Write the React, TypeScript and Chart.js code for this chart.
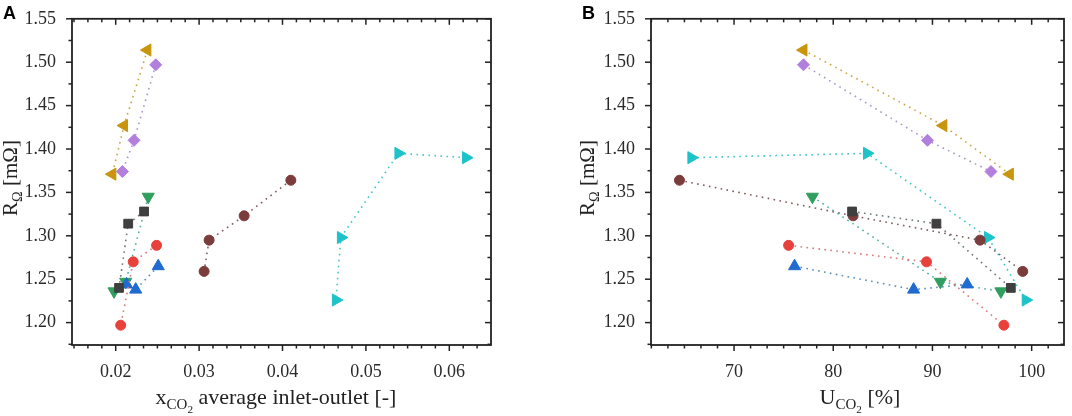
import React, { useEffect, useRef } from 'react';
import { Chart, registerables } from 'chart.js';

Chart.register(...registerables);

// R_Ω [mΩ] per run (same runs in both panels)
const rSquare = [1.328, 1.314, 1.240];
const rCircle = [1.289, 1.270, 1.197];
const rTriUp = [1.265, 1.238, 1.244];
const rTriDown = [1.345, 1.247, 1.236];
const rHex = [1.364, 1.323, 1.295, 1.259];
const rTriRight = [1.390, 1.395, 1.298, 1.226];
const rDiamond = [1.497, 1.410, 1.374];
const rTriLeft = [1.514, 1.427, 1.371];

// panel A: x_CO2 average inlet-outlet [-]
const xSquare = [0.0234, 0.0215, 0.0204];
const xCircle = [0.0249, 0.0221, 0.0206];
const xTriUp = [0.0251, 0.0224, 0.0213];
const xTriDown = [0.0239, 0.0212, 0.0198];
const xHex = [0.0410, 0.0354, 0.0312, 0.0306];
const xTriRight = [0.0620, 0.0539, 0.0470, 0.0464];
const xDiamond = [0.0248, 0.0222, 0.0208];
const xTriLeft = [0.0238, 0.0210, 0.0196];

// panel B: U_CO2 [%]
const uSquare = [81.9, 90.4, 97.9];
const uCircle = [75.5, 89.4, 97.2];
const uTriUp = [76.1, 88.1, 93.5];
const uTriDown = [77.9, 90.8, 96.9];
const uHex = [64.5, 82.0, 94.8, 99.1];
const uTriRight = [65.7, 83.4, 95.6, 99.4];
const uDiamond = [77.0, 89.5, 95.9];
const uTriLeft = [77.0, 91.1, 97.8];

// tick labels
const rTicks = [1.20, 1.25, 1.30, 1.35, 1.40, 1.45, 1.50, 1.55];
const xTicks = [0.02, 0.03, 0.04, 0.05, 0.06];
const uTicks = [70, 80, 90, 100];

const series = [
  { r: rSquare, x: xSquare, u: uSquare, color: '#3f3f3f', line: '#6b7676', style: 'rect', rotation: 0, radius: 6.2 },
  { r: rCircle, x: xCircle, u: uCircle, color: '#e8413c', line: '#d87878', style: 'circle', rotation: 0, radius: 5 },
  { r: rTriUp, x: xTriUp, u: uTriUp, color: '#1f6bd0', line: '#5b8cb8', style: 'triangle', rotation: 0, radius: 7 },
  { r: rTriDown, x: xTriDown, u: uTriDown, color: '#2f9e5e', line: '#4fb0a0', style: 'triangle', rotation: 180, radius: 7 },
  { r: rHex, x: xHex, u: uHex, color: '#7b3c3c', line: '#805a5a', style: 'circle', rotation: 0, radius: 5 },
  { r: rTriRight, x: xTriRight, u: uTriRight, color: '#1dc3c9', line: '#3cc6ca', style: 'triangle', rotation: 90, radius: 7 },
  { r: rDiamond, x: xDiamond, u: uDiamond, color: '#b27fdc', line: '#a995c8', style: 'rectRot', rotation: 0, radius: 6 },
  { r: rTriLeft, x: xTriLeft, u: uTriLeft, color: '#c9950f', line: '#c9a640', style: 'triangle', rotation: -90, radius: 7 },
];

const serif = "'Liberation Serif', 'Times New Roman', serif";
const tickFont = { family: serif, size: 18 };

// frame + major/minor ticks (outward bottom/left, inward top/right)
const frameTicks = {
  id: 'frameTicks',
  afterDraw(chart: any, _args: any, opts: any) {
    const { ctx, chartArea: a } = chart;
    const xs = chart.scales.x;
    const ys = chart.scales.y;
    const minors = (ticks: number[], div: number, min: number, max: number) => {
      const step = (ticks[1] - ticks[0]) / div;
      const out: number[] = [];
      for (let v = ticks[0] - step; v > min; v -= step) out.push(v);
      ticks.forEach(t => {
        for (let k = 1; k < div; k++) {
          const v = t + k * step;
          if (v < max) out.push(v);
        }
      });
      return out;
    };
    const seg = (x1: number, y1: number, x2: number, y2: number) => {
      ctx.beginPath();
      ctx.moveTo(x1, y1);
      ctx.lineTo(x2, y2);
      ctx.stroke();
    };
    ctx.save();
    ctx.strokeStyle = '#222';
    ctx.lineWidth = 1.8;
    ctx.strokeRect(a.left, a.top, a.right - a.left, a.bottom - a.top);
    ctx.lineWidth = 1.5;
    const drawX = (v: number, len: number) => {
      const px = xs.getPixelForValue(v);
      seg(px, a.bottom, px, a.bottom + len);
      seg(px, a.top, px, a.top + len);
    };
    const drawY = (v: number, len: number) => {
      const py = ys.getPixelForValue(v);
      seg(a.left, py, a.left - len, py);
      seg(a.right, py, a.right - len, py);
    };
    opts.xTicks.forEach((v: number) => drawX(v, 6));
    minors(opts.xTicks, 6, xs.min, xs.max).forEach(v => drawX(v, 3.5));
    rTicks.forEach(v => drawY(v, 6));
    minors(rTicks, 2, ys.min, ys.max).forEach(v => drawY(v, 3.5));
    ctx.restore();
  },
};

function buildConfig(panel: 'A' | 'B') {
  const isA = panel === 'A';
  const ticksX = isA ? xTicks : uTicks;
  return {
    type: 'scatter' as const,
    data: {
      datasets: series.map(s => ({
        data: (isA ? s.x : s.u).map((v, i) => ({ x: v, y: s.r[i] })),
        showLine: true,
        borderColor: s.line,
        borderWidth: 1.6,
        borderDash: [1.6, 4.4],
        tension: 0,
        fill: false,
        pointStyle: s.style,
        rotation: s.rotation,
        pointRadius: s.radius,
        pointBackgroundColor: s.color,
        pointBorderColor: s.color,
        pointBorderWidth: 1,
      })),
    },
    options: {
      animation: false as const,
      responsive: false,
      events: [],
      layout: { padding: { left: 0, top: 10, right: isA ? 45 : 3.3, bottom: 0 } },
      plugins: {
        legend: { display: false },
        tooltip: { enabled: false },
        frameTicks: { xTicks: ticksX },
      },
      scales: {
        x: {
          type: 'linear' as const,
          min: isA ? 0.01476 : 61.63,
          max: isA ? 0.0650 : 103.26,
          grid: { display: false },
          border: { display: false },
          ticks: {
            padding: 8,
            font: tickFont,
            color: '#2a2a2a',
            maxRotation: 0,
            autoSkip: false,
            callback: (v: any) => (isA ? Number(v).toFixed(2) : String(v)),
          },
          afterBuildTicks: (s: any) => {
            s.ticks = ticksX.map(v => ({ value: v }));
          },
          afterFit: (s: any) => {
            s.height = 71;
          },
        },
        y: {
          type: 'linear' as const,
          min: 1.1742,
          max: 1.55,
          grid: { display: false },
          border: { display: false },
          ticks: {
            padding: 8,
            font: tickFont,
            color: '#2a2a2a',
            autoSkip: false,
            callback: (v: any) => Number(v).toFixed(2),
          },
          afterBuildTicks: (s: any) => {
            s.ticks = rTicks.map(v => ({ value: v }));
          },
          afterFit: (s: any) => {
            s.width = isA ? 72 : 115;
          },
        },
      },
    },
    plugins: [frameTicks],
  };
}

const subStyle: React.CSSProperties = {
  fontSize: '0.68em',
  verticalAlign: 'baseline',
  position: 'relative',
  top: '0.35em',
};

const panelLetter: React.CSSProperties = {
  position: 'absolute',
  top: 4,
  fontFamily: "'Liberation Sans', Arial, sans-serif",
  fontWeight: 'bold',
  fontSize: 18,
  lineHeight: '18px',
  color: '#000',
};

const yTitle = (left: number): React.CSSProperties => ({
  position: 'absolute',
  left,
  top: 177.5,
  transform: 'translate(-50%, -50%) rotate(-90deg)',
  fontFamily: serif,
  fontSize: 21,
  lineHeight: '21px',
  whiteSpace: 'nowrap',
  color: '#222',
});

const xTitle = (left: number): React.CSSProperties => ({
  position: 'absolute',
  left,
  top: 386,
  transform: 'translateX(-50%)',
  fontFamily: serif,
  fontSize: 22,
  lineHeight: '22px',
  whiteSpace: 'nowrap',
  color: '#222',
});

const App: React.FC = () => {
  const leftRef = useRef<HTMLCanvasElement>(null);
  const rightRef = useRef<HTMLCanvasElement>(null);

  useEffect(() => {
    if (!leftRef.current || !rightRef.current) return;
    const left = new Chart(leftRef.current, buildConfig('A') as any);
    const right = new Chart(rightRef.current, buildConfig('B') as any);
    return () => {
      left.destroy();
      right.destroy();
    };
  }, []);

  return (
    <div style={{ position: 'absolute', left: 0, top: 0, width: 1072, height: 416, background: '#fff', overflow: 'hidden' }}>
      <canvas ref={leftRef} width={536} height={416} style={{ position: 'absolute', left: 0, top: 0 }} />
      <canvas ref={rightRef} width={536} height={416} style={{ position: 'absolute', left: 536, top: 0 }} />
      <div style={{ ...panelLetter, left: 3 }}>A</div>
      <div style={{ ...panelLetter, left: 582 }}>B</div>
      <div style={yTitle(11)}>
        R<sub style={subStyle}>Ω</sub> [mΩ]
      </div>
      <div style={yTitle(588)}>
        R<sub style={subStyle}>Ω</sub> [mΩ]
      </div>
      <div style={xTitle(276)}>
        x<sub style={subStyle}>CO<sub style={{ ...subStyle, fontSize: '0.75em', top: '0.3em' }}>2</sub></sub> average inlet-outlet [-]
      </div>
      <div style={xTitle(860)}>
        U<sub style={subStyle}>CO<sub style={{ ...subStyle, fontSize: '0.75em', top: '0.3em' }}>2</sub></sub> [%]
      </div>
    </div>
  );
};

export default App;
